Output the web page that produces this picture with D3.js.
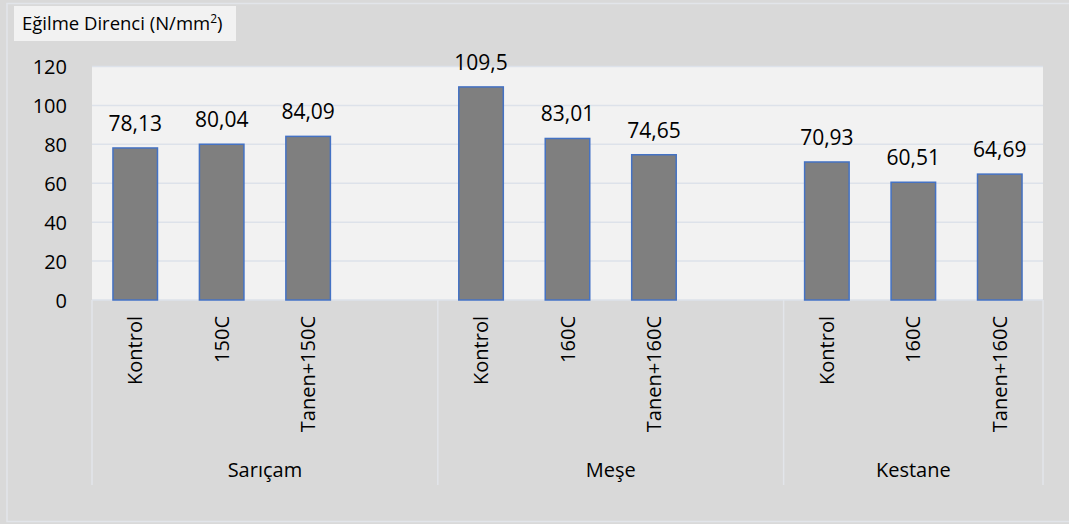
<!DOCTYPE html>
<html><head><meta charset="utf-8">
<script src="https://cdn.jsdelivr.net/npm/d3@7"></script>
<style>
html,body{margin:0;padding:0;background:#d9d9d9;}
svg{display:block;font-family:"Open Sans","Noto Sans",sans-serif;}
</style></head>
<body>
<svg id="c" width="1069" height="524"></svg>
<script>
const groups = ["Sarıçam", "Meşe", "Kestane"];
const treatments = [
  ["Kontrol", "150C", "Tanen+150C"],
  ["Kontrol", "160C", "Tanen+160C"],
  ["Kontrol", "160C", "Tanen+160C"]
];
const values = [
  [78.13, 80.04, 84.09],
  [109.5, 83.01, 74.65],
  [70.93, 60.51, 64.69]
];
const valueLabels = [
  ["78,13", "80,04", "84,09"],
  ["109,5", "83,01", "74,65"],
  ["70,93", "60,51", "64,69"]
];
const blankSlots = [1, 1, 0];
const yTicks = [0, 20, 40, 60, 80, 100, 120];
const title = "Eğilme Direnci (N/mm";

const svg = d3.select("#c");
const W = 1069, H = 524;
const plot = {l: 92, r: 1043, t: 66.5, b: 300};
const catBottom = 485;

// outer frame
svg.append("rect").attr("x", 0).attr("y", 0).attr("width", W).attr("height", H).attr("fill", "#d9d9d9");
svg.append("rect").attr("x", 7).attr("y", 3.5).attr("width", W + 10).attr("height", 518)
  .attr("fill", "#d9d9d9").attr("stroke", "#e2e5ea").attr("stroke-width", 1.5);

// slots
const slots = [];
const groupSlots = [];
groups.forEach((g, gi) => {
  const start = slots.length;
  treatments[gi].forEach((t, ti) => slots.push({id: gi + "-" + ti, g: gi, t: ti, label: t, value: values[gi][ti], vl: valueLabels[gi][ti]}));
  for (let k = 0; k < blankSlots[gi]; k++) slots.push({id: gi + "-blank" + k, g: gi, blank: true});
  groupSlots.push([start, slots.length]);
});

const x = d3.scaleBand().domain(slots.map(d => d.id)).range([plot.l, plot.r]).paddingInner(0.485).paddingOuter(0.2425);
const y = d3.scaleLinear().domain([0, 120]).range([plot.b, plot.t]);

// plot area
svg.append("rect").attr("x", plot.l).attr("y", plot.t).attr("width", plot.r - plot.l).attr("height", plot.b - plot.t).attr("fill", "#f2f2f2");

// gridlines
svg.append("g").selectAll("line").data(yTicks).join("line")
  .attr("x1", plot.l).attr("x2", plot.r)
  .attr("y1", d => y(d)).attr("y2", d => y(d))
  .attr("stroke", "#dde2ea").attr("stroke-width", 1.5);

// y axis labels
const yAxis = d3.axisLeft(y).tickValues(yTicks).tickSize(0).tickPadding(0).tickFormat(d3.format("d"));
const ya = svg.append("g").attr("transform", `translate(${67},0)`).call(yAxis);
ya.select(".domain").remove();
ya.selectAll("text").attr("font-size", 20).attr("fill", "#000").attr("font-family", "Open Sans").attr("dy", "0.35em");

// category separators
const bandW = (plot.r - plot.l) / slots.length;
const seps = [0].concat(groupSlots.map(s => s[1]));
svg.append("g").selectAll("line").data(seps).join("line")
  .attr("x1", d => plot.l + d * bandW).attr("x2", d => plot.l + d * bandW)
  .attr("y1", plot.b).attr("y2", catBottom)
  .attr("stroke", "#e2e5ea").attr("stroke-width", 1.5);

// bars
const bars = slots.filter(d => !d.blank);
svg.append("g").selectAll("rect").data(bars).join("rect")
  .attr("x", d => x(d.id)).attr("width", x.bandwidth())
  .attr("y", d => y(d.value)).attr("height", d => y(0) - y(d.value))
  .attr("fill", "#7f7f7f").attr("stroke", "#4472c4").attr("stroke-width", 1.5);

// value labels
svg.append("g").selectAll("text").data(bars).join("text")
  .attr("x", d => x(d.id) + x.bandwidth() / 2).attr("y", d => y(d.value) - 17)
  .attr("text-anchor", "middle").attr("font-size", 21).attr("fill", "#000")
  .text(d => d.vl);

// category labels (rotated)
svg.append("g").selectAll("text").data(bars).join("text")
  .attr("transform", d => `translate(${x(d.id) + x.bandwidth() / 2},316) rotate(-90)`)
  .attr("text-anchor", "end").attr("dy", "0.35em")
  .attr("font-size", 20).attr("fill", "#000")
  .text(d => d.label);

// group labels
svg.append("g").selectAll("text").data(groups).join("text")
  .attr("x", (d, i) => plot.l + (groupSlots[i][0] + groupSlots[i][1]) / 2 * bandW)
  .attr("y", 477).attr("text-anchor", "middle").attr("font-size", 20).attr("fill", "#000")
  .text(d => d);

// title box
svg.append("rect").attr("x", 14).attr("y", 6).attr("width", 222).attr("height", 35).attr("fill", "#f2f2f2");
const tt = svg.append("text").attr("x", 22).attr("y", 30).attr("font-size", 18.5).attr("fill", "#000");
tt.append("tspan").text(title);
tt.append("tspan").attr("font-size", 12).attr("dy", -7).text("2");
tt.append("tspan").attr("dy", 7).text(")");
</script>
</body></html>
